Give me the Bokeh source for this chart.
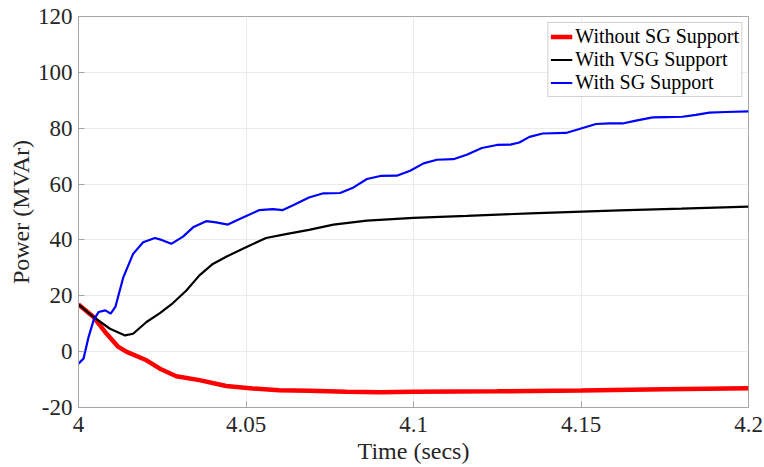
from bokeh.plotting import figure
from bokeh.models import Range1d, FixedTicker, Legend, LegendItem
from bokeh.embed import file_html
from bokeh.resources import INLINE

# ---- data ----
t_red = [4.000, 4.0045, 4.0084, 4.0119, 4.0144, 4.0203, 4.0243, 4.0292, 4.0361, 4.0441,
         4.052, 4.0599, 4.0688, 4.08, 4.09, 4.1, 4.125, 4.15, 4.175, 4.2]
v_red = [16.9, 12.4, 6.4, 1.7, -0.1, -3.1, -6.1, -8.8, -10.2, -12.3,
         -13.2, -13.8, -14.0, -14.4, -14.5, -14.4, -14.2, -13.9, -13.5, -13.1]

t_vsg = [4.000, 4.0045, 4.0094, 4.0139, 4.0163, 4.0203, 4.0243, 4.0282, 4.0322, 4.0361,
         4.0401, 4.0441, 4.05, 4.056, 4.0619, 4.0688, 4.0761, 4.0861, 4.1, 4.1159,
         4.1348, 4.1614, 4.18, 4.2]
v_vsg = [16.9, 12.4, 8.2, 5.8, 6.4, 10.6, 13.8, 17.4, 21.9, 27.3,
         31.4, 34.0, 37.4, 40.7, 42.1, 43.6, 45.5, 46.9, 47.9, 48.6,
         49.5, 50.6, 51.2, 51.9]

t_sg = [4.000, 4.0015, 4.003, 4.0045, 4.006, 4.008, 4.0096, 4.011, 4.0134, 4.0163,
        4.0193, 4.0228, 4.0248, 4.0277, 4.0312, 4.0342, 4.0381, 4.0411, 4.0446, 4.0481,
        4.054, 4.058, 4.061, 4.0639, 4.0688, 4.0731, 4.0781, 4.0821, 4.0861, 4.0901,
        4.095, 4.099, 4.103, 4.107, 4.1119, 4.1159, 4.1204, 4.1249, 4.1289, 4.1316,
        4.1346, 4.1386, 4.1455, 4.1495, 4.1545, 4.1585, 4.1624, 4.1664, 4.1714, 4.1754,
        4.1803, 4.1843, 4.1883, 4.1933, 4.2]
v_sg = [-4.3, -2.5, 5.2, 11.2, 14.2, 14.8, 13.6, 16.0, 26.7, 35.0,
        39.2, 40.7, 40.0, 38.6, 41.2, 44.5, 46.7, 46.3, 45.5, 47.5,
        50.7, 51.0, 50.7, 52.3, 55.2, 56.7, 56.8, 58.8, 61.8, 62.9,
        63.0, 64.8, 67.4, 68.7, 68.9, 70.5, 72.9, 74.0, 74.1, 74.9,
        76.9, 78.1, 78.3, 79.7, 81.5, 81.7, 81.7, 82.7, 83.9, 84.0,
        84.1, 84.8, 85.6, 85.8, 86.0]

x_ticks = [4.0, 4.05, 4.1, 4.15, 4.2]
x_tick_labels = ["4", "4.05", "4.1", "4.15", "4.2"]
y_ticks = [-20, 0, 20, 40, 60, 80, 100, 120]
y_tick_labels = ["-20", "0", "20", "40", "60", "80", "100", "120"]

labels = ["Without SG Support", "With VSG Support", "With SG Support"]

FONT = "Liberation Serif"
AX_COL = "#a6a6a6"
TXT_COL = "#262626"

p = figure(width=764, height=467, output_backend="svg", toolbar_location=None,
           x_range=Range1d(4.0, 4.2), y_range=Range1d(-20, 120),
           min_border_left=78, min_border_right=16, min_border_top=16, min_border_bottom=60)
p.background_fill_color = "white"
p.border_fill_color = "white"
p.outline_line_color = AX_COL
p.outline_line_width = 1

for ax in (p.xaxis[0], p.yaxis[0]):
    ax.axis_line_color = AX_COL
    ax.major_tick_line_color = AX_COL
    ax.major_tick_in = 6
    ax.major_tick_out = 0
    ax.minor_tick_line_color = None
    ax.major_label_text_font = FONT
    ax.major_label_text_font_size = "23px"
    ax.major_label_text_color = TXT_COL
    ax.axis_label_text_font = FONT
    ax.axis_label_text_font_size = "24px"
    ax.axis_label_text_font_style = "normal"
    ax.axis_label_text_color = TXT_COL

p.xaxis[0].ticker = FixedTicker(ticks=x_ticks)
p.xaxis[0].major_label_overrides = {k: v for k, v in zip(x_ticks, x_tick_labels)}
p.xaxis[0].major_label_standoff = 9
p.xaxis[0].axis_label = "Time (secs)"
p.xaxis[0].axis_label_standoff = 3
p.yaxis[0].ticker = FixedTicker(ticks=y_ticks)
p.yaxis[0].major_label_overrides = {k: v for k, v in zip(y_ticks, y_tick_labels)}
p.yaxis[0].major_label_standoff = 6
p.yaxis[0].axis_label = "Power (MVAr)"
p.yaxis[0].axis_label_standoff = 1

p.xgrid.ticker = FixedTicker(ticks=x_ticks)
p.ygrid.ticker = FixedTicker(ticks=y_ticks)
p.xgrid.grid_line_color = "#ebebeb"
p.ygrid.grid_line_color = "#ebebeb"

r_red = p.line(t_red, v_red, line_color="#ff0000", line_width=4.5)
r_vsg = p.line(t_vsg, v_vsg, line_color="#000000", line_width=2.2)
r_sg = p.line(t_sg, v_sg, line_color="#0000ff", line_width=2.2)

legend = Legend(items=[LegendItem(label=labels[0], renderers=[r_red]),
                       LegendItem(label=labels[1], renderers=[r_vsg]),
                       LegendItem(label=labels[2], renderers=[r_sg])],
                location="top_right")
legend.margin = 6
legend.padding = 2
legend.spacing = 0
legend.glyph_width = 22
legend.glyph_height = 23
legend.label_height = 23
legend.label_standoff = 3
legend.label_text_font = FONT
legend.label_text_font_size = "20px"
legend.label_text_color = "#000000"
legend.border_line_color = AX_COL
legend.border_line_width = 1
legend.background_fill_alpha = 1.0
p.add_layout(legend)

open("out.html", "w").write(file_html(p, INLINE))
